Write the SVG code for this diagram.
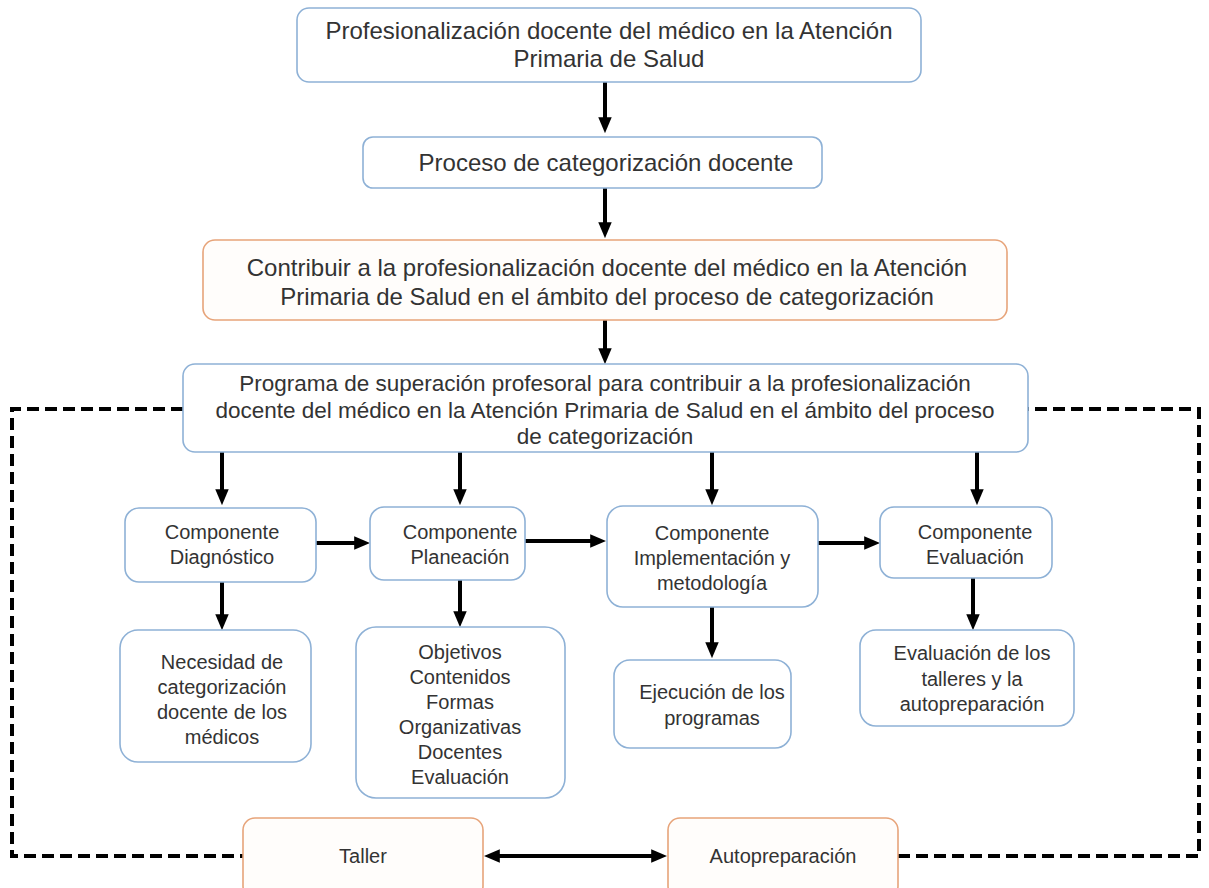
<svg xmlns="http://www.w3.org/2000/svg" width="1209" height="888" viewBox="0 0 1209 888">
<defs>
<style>
.b{fill:#ffffff;stroke:#8eb1d6;stroke-width:1.6}
.o{fill:#fffdfb;stroke:#e7a47a;stroke-width:1.6}
.t{font-family:"Liberation Sans",Arial,sans-serif;font-size:20px;fill:#333333;text-anchor:middle}
.L{font-size:24px}
.M{font-size:22.5px}
.c{stroke:#000;stroke-width:4;fill:none}
.d{stroke:#000;stroke-width:4;fill:none;stroke-dasharray:12 6}
</style>
<marker id="ah" viewBox="0 0 10 10" refX="3" refY="5" markerWidth="16" markerHeight="16" markerUnits="userSpaceOnUse" orient="auto-start-reverse">
<path d="M0,0.8 L10,5 L0,9.2 z" fill="#000"/>
</marker>
</defs>
<rect width="1209" height="888" fill="#ffffff"/>

<g id="connectors">
<path class="d" d="M183,409 H12 V856 H243"/>
<path class="d" d="M898,856 H1199 V409 H1028"/>
<line class="c" x1="605" y1="82" x2="605" y2="122" marker-end="url(#ah)"/>
<line class="c" x1="605" y1="188" x2="605" y2="227" marker-end="url(#ah)"/>
<line class="c" x1="605" y1="320" x2="605" y2="353" marker-end="url(#ah)"/>
<line class="c" x1="222" y1="452" x2="222" y2="494" marker-end="url(#ah)"/>
<line class="c" x1="460" y1="452" x2="460" y2="494" marker-end="url(#ah)"/>
<line class="c" x1="712" y1="452" x2="712" y2="494" marker-end="url(#ah)"/>
<line class="c" x1="977" y1="452" x2="977" y2="494" marker-end="url(#ah)"/>
<line class="c" x1="316" y1="543" x2="359" y2="543" marker-end="url(#ah)"/>
<line class="c" x1="525" y1="541" x2="595" y2="541" marker-end="url(#ah)"/>
<line class="c" x1="818" y1="543" x2="869" y2="543" marker-end="url(#ah)"/>
<line class="c" x1="222" y1="582" x2="222" y2="619" marker-end="url(#ah)"/>
<line class="c" x1="460" y1="580" x2="460" y2="616" marker-end="url(#ah)"/>
<line class="c" x1="712" y1="607" x2="712" y2="647" marker-end="url(#ah)"/>
<line class="c" x1="973" y1="578" x2="973" y2="619" marker-end="url(#ah)"/>
<line class="c" x1="495" y1="856" x2="656" y2="856" marker-start="url(#ah)" marker-end="url(#ah)"/>
</g>

<g id="n1"><rect class="b" x="297" y="8" width="624" height="74" rx="12"/>
<text class="t L" x="609" y="39">Profesionalización docente del  médico en la Atención</text>
<text class="t L" x="609" y="67">Primaria de Salud</text></g>

<g id="n2"><rect class="b" x="363" y="137" width="459" height="51" rx="10"/>
<text class="t L" x="606" y="171">Proceso de categorización docente</text></g>

<g id="n3"><rect class="o" x="203" y="240" width="804" height="80" rx="12"/>
<text class="t L" x="607" y="276">Contribuir a la profesionalización docente del médico en la Atención</text>
<text class="t L" x="607" y="305">Primaria de Salud en el ámbito del proceso de categorización</text></g>

<g id="n4"><rect class="b" x="183" y="364" width="845" height="88" rx="12"/>
<text class="t M" x="605" y="391">Programa de superación profesoral para contribuir a la profesionalización</text>
<text class="t M" x="605" y="418">docente del médico en la Atención Primaria de Salud en el ámbito del proceso</text>
<text class="t M" x="605" y="444">de categorización</text></g>

<g id="n5"><rect class="b" x="125" y="508" width="191" height="74" rx="14"/>
<text class="t" x="222" y="539">Componente</text>
<text class="t" x="222" y="564">Diagnóstico</text></g>

<g id="n6"><rect class="b" x="370" y="507" width="155" height="73" rx="14"/>
<text class="t" x="460" y="539">Componente</text>
<text class="t" x="460" y="564">Planeación</text></g>

<g id="n7"><rect class="b" x="607" y="506" width="211" height="101" rx="16"/>
<text class="t" x="712" y="540">Componente</text>
<text class="t" x="712" y="565">Implementación  y</text>
<text class="t" x="712" y="590">metodología</text></g>

<g id="n8"><rect class="b" x="880" y="507" width="172" height="71" rx="14"/>
<text class="t" x="975" y="539">Componente</text>
<text class="t" x="975" y="564">Evaluación</text></g>

<g id="n9"><rect class="b" x="120" y="630" width="191" height="132" rx="18"/>
<text class="t" x="222" y="669">Necesidad de</text>
<text class="t" x="222" y="694">categorización</text>
<text class="t" x="222" y="719">docente de los</text>
<text class="t" x="222" y="744">médicos</text></g>

<g id="n10"><rect class="b" x="356" y="627" width="209" height="171" rx="20"/>
<text class="t" x="460" y="659">Objetivos</text>
<text class="t" x="460" y="684">Contenidos</text>
<text class="t" x="460" y="709">Formas</text>
<text class="t" x="460" y="734">Organizativas</text>
<text class="t" x="460" y="759">Docentes</text>
<text class="t" x="460" y="784">Evaluación</text></g>

<g id="n11"><rect class="b" x="614" y="660" width="177" height="88" rx="16"/>
<text class="t" x="712" y="699">Ejecución de los</text>
<text class="t" x="712" y="725">programas</text></g>

<g id="n12"><rect class="b" x="860" y="630" width="214" height="96" rx="16"/>
<text class="t" x="972" y="660">Evaluación de los</text>
<text class="t" x="972" y="686">talleres y la</text>
<text class="t" x="972" y="711">autopreparación</text></g>

<g id="n13"><rect class="o" x="243" y="818" width="240" height="80" rx="12"/>
<text class="t" x="363" y="863">Taller</text></g>

<g id="n14"><rect class="o" x="668" y="818" width="230" height="80" rx="12"/>
<text class="t" x="783" y="863">Autopreparación</text></g>
</svg>
